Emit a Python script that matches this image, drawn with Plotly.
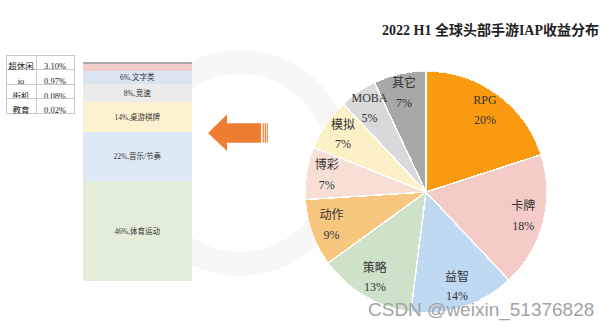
import plotly.graph_objects as go

W, H = 612, 329
def X(px): return px / W
def Y(py): return 1 - py / H

SERIF = "Liberation Serif, Noto Sans CJK SC, serif"

# ---- data ----
title = "2022 H1 全球头部手游IAP收益分布"

pie_labels = ["RPG", "卡牌", "益智", "策略", "动作", "博彩", "模拟", "MOBA", "其它"]
pie_values = [20, 18, 14, 13, 9, 7, 7, 5, 7]
pie_colors = ["#F99A10", "#F5CBC7", "#BFD9F3", "#CDE2C8", "#F8C77F",
              "#F7DFD6", "#FBF0C6", "#D9D9DB", "#A8A8A8"]

bar_names = ["体育运动", "音乐/节奏", "桌游棋牌", "竞速", "文字类", "超休闲", "io", "街机", "教育"]
bar_values = [46, 22, 14, 8, 6, 3.10, 0.97, 0.08, 0.02]
bar_show_label = [True, True, True, True, True, False, False, False, False]
bar_colors = ["#E2EEDA", "#DDE9F5", "#FDF2D0", "#EBEBEB", "#DCE4F2",
              "#F3CCCC", "#A9A9A9", "#A9A9A9", "#A9A9A9"]

table_names = ["超休闲", "io", "街机", "教育"]
table_values = ["3.10%", "0.97%", "0.08%", "0.02%"]

watermark = "CSDN @weixin_51376828"

fig = go.Figure()

# ---- stacked bar ----
for name, val, show, col in zip(bar_names, bar_values, bar_show_label, bar_colors):
    fig.add_trace(go.Bar(
        x=["share"], y=[val], name=name,
        marker=dict(color=col, line=dict(width=0)),
        text=[f"{val:g}%,{name}" if show else ""],
        textposition="inside", insidetextanchor="middle", constraintext="none",
        textfont=dict(family=SERIF, size=7.5, color="#333333"),
        width=1, showlegend=False, hoverinfo="skip",
        xaxis="x", yaxis="y",
    ))

# ---- pie drawn as full-radius polar wedges ----
total = sum(pie_values)
widths = [v / total * 360 for v in pie_values]
mids = []
acc = 0
for w in widths:
    mids.append(acc + w / 2)
    acc += w

fig.add_trace(go.Barpolar(
    r=[1] * len(pie_values), theta=mids, width=widths, base=0,
    marker=dict(color=pie_colors, line=dict(color="white", width=1.5)),
    showlegend=False, hoverinfo="skip", subplot="polar",
))
LABEL_R = 0.83
fig.add_trace(go.Scatterpolar(
    r=[LABEL_R] * len(pie_values), theta=mids, mode="markers+text",
    text=pie_labels, textposition="top center",
    marker=dict(size=4.5, color="rgba(0,0,0,0)"),
    textfont=dict(family=SERIF, size=12, color="#333333"),
    showlegend=False, hoverinfo="skip", subplot="polar",
))
fig.add_trace(go.Scatterpolar(
    r=[LABEL_R] * len(pie_values), theta=mids, mode="markers+text",
    text=[f"{v}%" for v in pie_values], textposition="bottom center",
    marker=dict(size=4.5, color="rgba(0,0,0,0)"),
    textfont=dict(family=SERIF, size=12, color="#333333"),
    showlegend=False, hoverinfo="skip", subplot="polar",
))

# ---- table ----
fig.add_trace(go.Table(
    domain=dict(x=[X(6), X(74)], y=[Y(114), Y(55)]),
    columnwidth=[30, 38],
    header=dict(values=[table_names[0], table_values[0]],
                fill_color="white", line_color="#C8C8C8", height=14.6,
                align="center", font=dict(family=SERIF, size=8.5, color="#222222")),
    cells=dict(values=[table_names[1:], table_values[1:]],
               fill_color="white", line_color="#C8C8C8", height=14.6,
               align="center", font=dict(family=SERIF, size=8.5, color="#222222")),
))

shapes = []
# faint background ring (watermark logo)
shapes.append(dict(type="circle", xref="paper", yref="paper", layer="below",
                   x0=X(140), x1=X(340), y0=Y(264), y1=Y(62),
                   line=dict(color="#F7F7F7", width=24)))
# orange arrow
ORANGE = "#EE7D31"
pts = [(208, 133), (227, 114.5), (227, 123.3), (261, 123.3), (261, 142.7),
       (227, 142.7), (227, 151)]
path = "M " + " L ".join(f"{X(a):.5f},{Y(b):.5f}" for a, b in pts) + " Z"
shapes.append(dict(type="path", xref="paper", yref="paper", path=path,
                   fillcolor=ORANGE, line=dict(width=0)))
for x0, x1 in [(262.6, 263.8), (264.8, 266.0), (266.8, 267.8)]:
    shapes.append(dict(type="rect", xref="paper", yref="paper",
                       x0=X(x0), x1=X(x1), y0=Y(142.7), y1=Y(123.3),
                       fillcolor=ORANGE, line=dict(width=0)))

annotations = [
    dict(text=f"<b>{title}</b>", x=X(490), y=Y(30), xref="paper", yref="paper",
         showarrow=False, xanchor="center", yanchor="middle",
         font=dict(family=SERIF, size=14, color="#222222")),
    dict(text=watermark, x=X(366), y=Y(310), xref="paper", yref="paper",
         showarrow=False, xanchor="left", yanchor="middle",
         font=dict(family="Liberation Sans, Arial, sans-serif", size=19, color="#A3A3A3")),
]

fig.update_layout(
    width=W, height=H, margin=dict(l=0, r=0, t=0, b=0),
    paper_bgcolor="white", plot_bgcolor="rgba(0,0,0,0)",
    barmode="stack", bargap=0,
    xaxis=dict(domain=[X(82.5), X(192)], range=[-0.5, 0.5], visible=False, fixedrange=True),
    yaxis=dict(domain=[Y(281), Y(61.7)], range=[0, sum(bar_values)], visible=False, fixedrange=True),
    polar=dict(
        domain=dict(x=[X(305), X(547)], y=[Y(313), Y(71)]),
        bgcolor="rgba(0,0,0,0)", bargap=0, hole=0,
        angularaxis=dict(rotation=90, direction="clockwise", visible=False,
                         showgrid=False, showline=False, showticklabels=False),
        radialaxis=dict(range=[0, 1], visible=False, showgrid=False,
                        showline=False, showticklabels=False),
    ),
    shapes=shapes, annotations=annotations,
)

fig.write_html("out.html")
